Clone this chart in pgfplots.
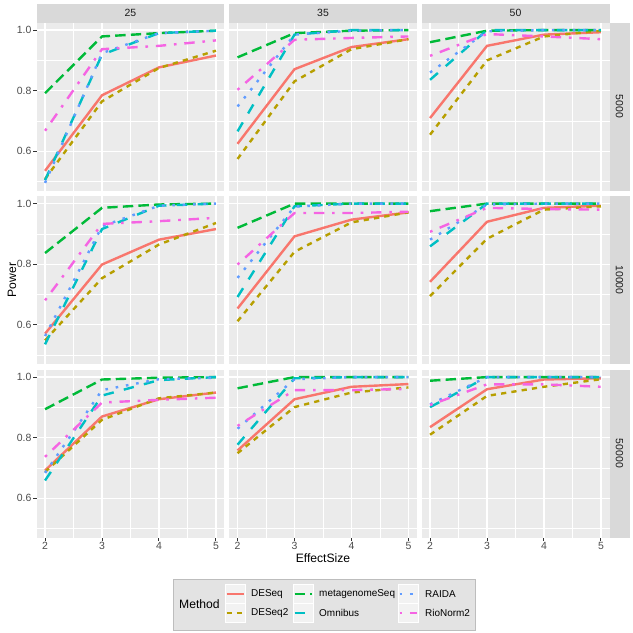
\documentclass[border=0pt]{standalone}
\usepackage{pgfplots}
\pgfplotsset{compat=1.18}
\usepackage{pgfplotstable}
\usepackage{fontspec}
\setmainfont{Liberation Sans}
\definecolor{panelbg}{HTML}{EBEBEB}
\definecolor{stripbg}{HTML}{D9D9D9}
\definecolor{grey30}{HTML}{4D4D4D}
\definecolor{grey20}{HTML}{333333}
\definecolor{grey10}{HTML}{1A1A1A}
\definecolor{legbg}{HTML}{E3E3E3}
\definecolor{legborder}{HTML}{BDBDBD}
\definecolor{keybg}{HTML}{F2F2F2}
\definecolor{cDESeq}{HTML}{F8766D}
\definecolor{cDESeqTwo}{HTML}{B79F00}
\definecolor{cMeta}{HTML}{00BA38}
\definecolor{cOmni}{HTML}{00BFC4}
\definecolor{cRAIDA}{HTML}{619CFF}
\definecolor{cRio}{HTML}{F564E3}

\pgfplotstableread{
x DESeq DESeqTwo Meta Omni RAIDA Rio
2 0.536 0.509 0.792 0.505 0.496 0.668
3 0.785 0.765 0.979 0.919 0.924 0.937
4 0.877 0.875 0.990 0.990 0.990 0.948
5 0.916 0.932 0.998 0.998 0.998 0.966
}\tAA
\pgfplotstableread{
x DESeq DESeqTwo Meta Omni RAIDA Rio
2 0.625 0.575 0.910 0.666 0.748 0.803
3 0.871 0.831 0.990 0.985 0.985 0.968
4 0.944 0.937 0.998 1.000 0.998 0.974
5 0.970 0.970 1.000 1.000 1.000 0.979
}\tAB
\pgfplotstableread{
x DESeq DESeqTwo Meta Omni RAIDA Rio
2 0.710 0.655 0.960 0.836 0.860 0.915
3 0.948 0.900 0.998 1.000 0.996 0.987
4 0.985 0.979 1.000 1.000 1.000 0.979
5 0.993 0.998 1.000 1.000 1.000 0.970
}\tAC
\pgfplotstableread{
x DESeq DESeqTwo Meta Omni RAIDA Rio
2 0.571 0.549 0.837 0.536 0.563 0.681
3 0.799 0.754 0.986 0.916 0.925 0.933
4 0.881 0.865 0.997 0.993 0.993 0.942
5 0.916 0.936 1.000 1.000 1.000 0.953
}\tBA
\pgfplotstableread{
x DESeq DESeqTwo Meta Omni RAIDA Rio
2 0.654 0.612 0.920 0.692 0.755 0.799
3 0.892 0.841 1.000 0.991 0.990 0.969
4 0.947 0.938 1.000 1.000 1.000 0.969
5 0.971 0.971 1.000 1.000 1.000 0.973
}\tBB
\pgfplotstableread{
x DESeq DESeqTwo Meta Omni RAIDA Rio
2 0.742 0.695 0.975 0.859 0.881 0.907
3 0.940 0.884 1.000 1.000 0.997 0.986
4 0.986 0.980 1.000 1.000 1.000 0.982
5 0.993 0.991 1.000 1.000 1.000 0.980
}\tBC
\pgfplotstableread{
x DESeq DESeqTwo Meta Omni RAIDA Rio
2 0.692 0.687 0.894 0.659 0.684 0.737
3 0.870 0.859 0.992 0.939 0.957 0.916
4 0.927 0.930 0.998 0.990 0.993 0.925
5 0.949 0.949 1.000 1.000 0.998 0.932
}\tCA
\pgfplotstableread{
x DESeq DESeqTwo Meta Omni RAIDA Rio
2 0.758 0.749 0.963 0.777 0.830 0.839
3 0.927 0.901 1.000 0.996 0.993 0.957
4 0.968 0.949 1.000 1.000 1.000 0.957
5 0.977 0.966 1.000 1.000 1.000 0.961
}\tCB
\pgfplotstableread{
x DESeq DESeqTwo Meta Omni RAIDA Rio
2 0.835 0.810 0.988 0.901 0.910 0.908
3 0.960 0.938 1.000 1.000 1.000 0.976
4 0.992 0.968 1.000 1.000 1.000 0.976
5 0.996 0.993 1.000 1.000 1.000 0.968
}\tCC

\tikzset{
  sDESeq/.style={cDESeq, line width=2.4bp},
  sDESeqTwo/.style={cDESeqTwo, line width=2.4bp, dash pattern=on 5.2bp off 5.2bp},
  sMeta/.style={cMeta, line width=2.4bp, dash pattern=on 10.4bp off 5.2bp},
  sOmni/.style={cOmni, line width=2.4bp, dash pattern=on 10.4bp off 10.4bp},
  sRAIDA/.style={cRAIDA, line width=2.4bp, dash pattern=on 2.6bp off 7.8bp},
  sRio/.style={cRio, line width=2.4bp, dash pattern=on 2.6bp off 7.8bp on 10.4bp off 7.8bp},
}

\pgfplotsset{
  panel/.style={
    scale only axis, width=188bp, height=168bp,
    xmin=1.85, xmax=5.15, ymin=0.471, ymax=1.025,
    axis background/.style={fill=panelbg},
    axis line style={draw=none},
    grid=both,
    major grid style={white, line width=1.2bp},
    minor grid style={white, line width=0.6bp},
    xtick={2,3,4,5}, ytick={0.6,0.8,1.0},
    minor xtick={2.5,3.5,4.5}, minor ytick={0.5,0.7,0.9},
    xtick pos=bottom, ytick pos=left,
    tick align=outside,
    major tick length=3.4bp, minor tick length=0pt,
    xticklabels={}, yticklabels={},
    xtick style={draw=none}, ytick style={draw=none},
    ticklabel style={font=\fontsize{10.5}{12}\selectfont, text=grey30, inner sep=1.5bp},
  },
  leftcol/.style={yticklabels={0.6,0.8,1.0}, ytick style={draw=grey20, line width=1bp}},
  botrow/.style={xticklabels={2,3,4,5}, xtick style={draw=grey20, line width=1bp}},
}

\newcommand{\panel}[5]{%
\begin{axis}[panel, name=#1, at={(#2bp,#3bp)}, anchor=north west, #5]
\addplot[sDESeq] table[x=x,y=DESeq]{#4};
\addplot[sDESeqTwo] table[x=x,y=DESeqTwo]{#4};
\addplot[sMeta] table[x=x,y=Meta]{#4};
\addplot[sOmni] table[x=x,y=Omni]{#4};
\addplot[sRAIDA] table[x=x,y=RAIDA]{#4};
\addplot[sRio] table[x=x,y=Rio]{#4};
\end{axis}}

\begin{document}
\begin{tikzpicture}
\path[use as bounding box, fill=white] (0,0) rectangle (633bp,-633bp);

\panel{pAA}{36.5}{-22.5}{\tAA}{leftcol}
\panel{pAB}{229}{-22.5}{\tAB}{}
\panel{pAC}{421.5}{-22.5}{\tAC}{}
\panel{pBA}{36.5}{-196}{\tBA}{leftcol}
\panel{pBB}{229}{-196}{\tBB}{}
\panel{pBC}{421.5}{-196}{\tBC}{}
\panel{pCA}{36.5}{-369.5}{\tCA}{leftcol,botrow}
\panel{pCB}{229}{-369.5}{\tCB}{botrow}
\panel{pCC}{421.5}{-369.5}{\tCC}{botrow}

% strips
\foreach \p/\t in {pAA/25,pAB/35,pAC/50}{
  \fill[stripbg] (\p.north west) rectangle ([yshift=19bp]\p.north east);
  \node[text=grey10, font=\fontsize{10.5}{12}\selectfont] at ([yshift=9.5bp]\p.north) {\t};
}
\foreach \p/\t in {pAC/5000,pBC/10000,pCC/50000}{
  \fill[stripbg] (\p.south east) rectangle ([xshift=20bp]\p.north east);
  \node[text=grey10, font=\fontsize{10.5}{12}\selectfont, rotate=-90] at ([xshift=10bp]\p.east) {\t};
}

% axis titles
\node[rotate=90, font=\fontsize{12.2}{14}\selectfont, text=black] at (12bp,-280bp) {Power};
\node[font=\fontsize{12.2}{14}\selectfont, text=black] at (323bp,-558bp) {EffectSize};

% legend
\draw[fill=legbg, draw=legborder, line width=0.8bp] (173bp,-579bp) rectangle (475bp,-630bp);
\node[anchor=west, inner sep=0pt, font=\fontsize{12.2}{14}\selectfont] at (179bp,-604bp) {Method};
\foreach \kx/\sa/\sb in {225/sDESeq/sDESeqTwo, 293/sMeta/sOmni, 398/sRAIDA/sRio}{
  \draw[fill=keybg, draw=white, line width=0.8bp] (\kx bp,-584.5bp) rectangle (\kx bp+20bp,-603.5bp);
  \draw[fill=keybg, draw=white, line width=0.8bp] (\kx bp,-603.5bp) rectangle (\kx bp+20bp,-622.5bp);
  \draw[\sa] (\kx bp+1.5bp,-594bp) -- (\kx bp+18.5bp,-594bp);
  \draw[\sb] (\kx bp+1.5bp,-613bp) -- (\kx bp+18.5bp,-613bp);
}
\foreach \tx/\la/\lb in {251/DESeq/DESeq2, 319/metagenomeSeq/Omnibus, 425/RAIDA/RioNorm2}{
  \node[anchor=west, inner sep=0pt, font=\fontsize{10}{12}\selectfont, text=black] at (\tx bp,-594bp) {\la};
  \node[anchor=west, inner sep=0pt, font=\fontsize{10}{12}\selectfont, text=black] at (\tx bp,-613bp) {\lb};
}
\end{tikzpicture}
\end{document}
